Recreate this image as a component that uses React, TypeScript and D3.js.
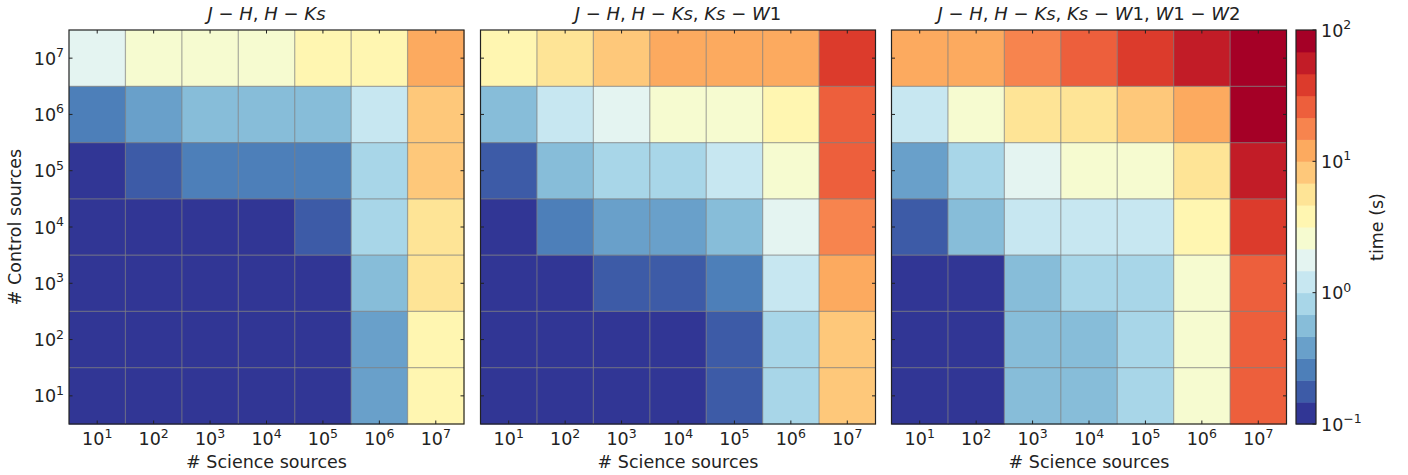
import * as d3 from 'd3';

// exponents of the number of sources (10^n)
const scienceExp = [1, 2, 3, 4, 5, 6, 7];
const controlExp = [7, 6, 5, 4, 3, 2, 1]; // rows, top to bottom

const M = ' − ';
const panelTitles = [
  [['J', 1], [M, 0], ['H', 1], [', ', 0], ['H', 1], [M, 0], ['Ks', 1]],
  [['J', 1], [M, 0], ['H', 1], [', ', 0], ['H', 1], [M, 0], ['Ks', 1], [', ', 0], ['Ks', 1], [M, 0], ['W', 1], ['1', 0]],
  [['J', 1], [M, 0], ['H', 1], [', ', 0], ['H', 1], [M, 0], ['Ks', 1], [', ', 0], ['Ks', 1], [M, 0], ['W', 1], ['1', 0], [', ', 0], ['W', 1], ['1', 0], [M, 0], ['W', 1], ['2', 0]],
];

// time (s), rows follow controlExp, columns follow scienceExp
const timeJH = [
  [1.8, 2.4, 2.6, 2.7, 3.5, 4.1, 13.0],
  [0.27, 0.39, 0.52, 0.55, 0.6, 1.25, 8.0],
  [0.09, 0.17, 0.25, 0.27, 0.29, 0.8, 9.0],
  [0.03, 0.04, 0.05, 0.08, 0.19, 0.75, 6.2],
  [0.02, 0.02, 0.03, 0.04, 0.08, 0.6, 5.3],
  [0.02, 0.02, 0.02, 0.03, 0.07, 0.4, 3.6],
  [0.02, 0.02, 0.02, 0.03, 0.07, 0.38, 3.4],
];
const timeJHW1 = [
  [3.9, 5.5, 8.4, 11.5, 12.5, 13.5, 40],
  [0.58, 1.2, 1.7, 2.4, 2.8, 3.6, 26],
  [0.18, 0.55, 0.78, 0.85, 1.1, 2.5, 24],
  [0.1, 0.28, 0.38, 0.42, 0.55, 1.6, 17],
  [0.04, 0.09, 0.16, 0.18, 0.24, 1.15, 12.5],
  [0.03, 0.04, 0.06, 0.1, 0.17, 0.85, 8.5],
  [0.03, 0.03, 0.05, 0.09, 0.16, 0.8, 8.2],
];
const timeJHW2 = [
  [11.5, 13.5, 18, 27, 38, 55, 95],
  [1.3, 2.5, 5.5, 6.0, 8.0, 13, 90],
  [0.4, 0.82, 1.7, 2.3, 2.8, 5.8, 58],
  [0.19, 0.6, 1.1, 1.2, 1.3, 4.2, 36],
  [0.05, 0.1, 0.55, 0.8, 0.9, 2.6, 25],
  [0.04, 0.09, 0.5, 0.6, 0.85, 2.4, 24],
  [0.04, 0.08, 0.5, 0.58, 0.82, 2.3, 23],
];
const panels = [timeJH, timeJHW1, timeJHW2];

const cbarExp = [-1, 0, 1, 2];
const nLevels = 18;

// RdYlBu_r, linear segments like matplotlib, sampled into 18 levels
const rdylbu = ['#313695', '#4575b4', '#74add1', '#abd9e9', '#e0f3f8', '#ffffbf', '#fee090', '#fdae61', '#f46d43', '#d73027', '#a50026'];
const ramp = d3.piecewise(d3.interpolateRgb, rdylbu);
const levels = d3.range(nLevels).map(i => ramp(i / (nLevels - 1)));
const color = d3.scaleQuantize<string>().domain([-1, 2]).range(levels);

const font = 'DejaVu Sans, sans-serif';
const fs = 17.5;
const left0 = [69, 480.5, 891.5];
const top = 30, size = 395, hgt = 394;
const tickLen = 3.5;
const ink = '#222';

function Pow({ x, y, e, anchor }: { x: number; y: number; e: number; anchor: string }) {
  const s = e < 0 ? '−' + Math.abs(e) : String(e);
  return (
    <text x={x} y={y} textAnchor={anchor} fontSize={fs} fill={ink} fontFamily={font}>
      <tspan>10</tspan>
      <tspan dy={-7.5} fontSize={12.5}>{s}</tspan>
    </text>
  );
}

function Panel({ idx }: { idx: number }) {
  const x0 = left0[idx];
  const x = d3.scaleBand<number>().domain(scienceExp).range([x0, x0 + size]);
  const y = d3.scaleBand<number>().domain(controlExp).range([top, top + hgt]);
  const data = panels[idx];
  const bw = x.bandwidth(), bh = y.bandwidth();
  return (
    <g>
      {controlExp.map((c, r) =>
        scienceExp.map((s, k) => (
          <rect key={`${r}-${k}`} x={x(s)} y={y(c)} width={bw + 0.5} height={bh + 0.5}
            fill={color(Math.log10(data[r][k]))} />
        ))
      )}
      {scienceExp.slice(1).map(s => (
        <line key={'gx' + s} x1={x(s)} x2={x(s)} y1={top} y2={top + hgt} stroke="rgb(128,128,128)" strokeOpacity={0.65} strokeWidth={1.2} />
      ))}
      {controlExp.slice(1).map(c => (
        <line key={'gy' + c} x1={x0} x2={x0 + size} y1={y(c)} y2={y(c)} stroke="rgb(128,128,128)" strokeOpacity={0.65} strokeWidth={1.2} />
      ))}
      {scienceExp.map(s => {
        const cx = x(s)! + bw / 2;
        return (
          <g key={'tx' + s}>
            <line x1={cx} x2={cx} y1={top + hgt} y2={top + hgt - tickLen} stroke={ink} strokeWidth={1} />
            <line x1={cx} x2={cx} y1={top} y2={top + tickLen} stroke={ink} strokeWidth={1} />
            <Pow x={cx} y={445} e={s} anchor="middle" />
          </g>
        );
      })}
      {controlExp.map(c => {
        const cy = y(c)! + bh / 2;
        return (
          <g key={'ty' + c}>
            <line x1={x0} x2={x0 + tickLen} y1={cy} y2={cy} stroke={ink} strokeWidth={1} />
            <line x1={x0 + size} x2={x0 + size - tickLen} y1={cy} y2={cy} stroke={ink} strokeWidth={1} />
            {idx === 0 && <Pow x={x0 - 5} y={cy + 6.5} e={c} anchor="end" />}
          </g>
        );
      })}
      <rect x={x0} y={top} width={size} height={hgt} fill="none" stroke={ink} strokeWidth={1.2} />
      <text x={x0 + size / 2} y={20} textAnchor="middle" fontSize={18} fill={ink} fontFamily={font}>
        {panelTitles[idx].map(([t, it], i) => (
          <tspan key={i} fontStyle={it ? 'italic' : 'normal'}>{t}</tspan>
        ))}
      </text>
      <text x={x0 + size / 2} y={468} textAnchor="middle" fontSize={fs} fill={ink} fontFamily={font}># Science sources</text>
    </g>
  );
}

function Colorbar() {
  const cx0 = 1296, cw = 20;
  const yc = d3.scaleLinear().domain([-1, 2]).range([top + hgt, top]);
  const step = 3 / nLevels;
  return (
    <g>
      {levels.map((c, i) => (
        <rect key={i} x={cx0} y={yc(-1 + (i + 1) * step)} width={cw} height={yc(-1 + i * step) - yc(-1 + (i + 1) * step) + 0.5} fill={c} />
      ))}
      <rect x={cx0} y={top} width={cw} height={hgt} fill="none" stroke={ink} strokeWidth={1.2} />
      {cbarExp.map(e => (
        <g key={e}>
          <line x1={cx0 + cw} x2={cx0 + cw - tickLen} y1={yc(e)} y2={yc(e)} stroke={ink} strokeWidth={1} />
          <Pow x={cx0 + cw + 5} y={yc(e) + 6.5} e={e} anchor="start" />
        </g>
      ))}
      <text transform={`translate(1383,${top + hgt / 2}) rotate(-90)`} textAnchor="middle" fontSize={fs} fill={ink} fontFamily={font}>time (s)</text>
    </g>
  );
}

export default function App() {
  return (
    <svg width={1408} height={475} style={{ position: 'absolute', left: 0, top: 0, background: '#fff' }}>
      <rect width={1408} height={475} fill="#fff" />
      {[0, 1, 2].map(i => <Panel key={i} idx={i} />)}
      <text transform={`translate(21,${top + hgt / 2}) rotate(-90)`} textAnchor="middle" fontSize={fs} fill={ink} fontFamily={font}># Control sources</text>
      <Colorbar />
    </svg>
  );
}
